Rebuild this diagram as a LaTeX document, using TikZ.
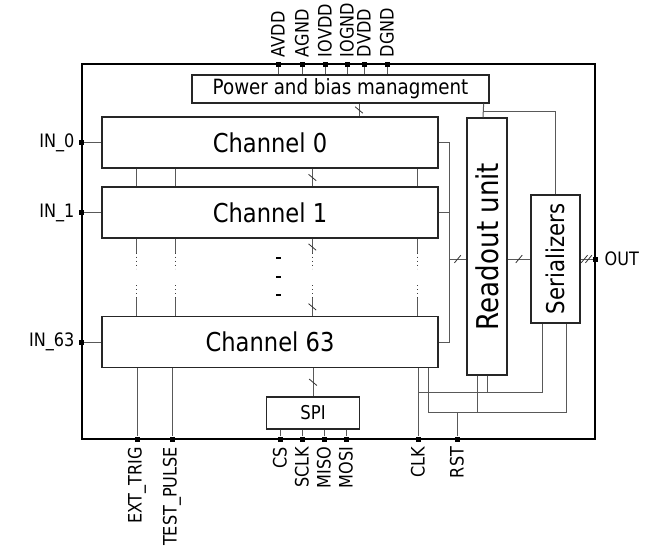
\documentclass[tikz,border=0pt]{standalone}
\usepackage{fontspec}
\setmainfont{DejaVu Sans}[FakeStretch=0.87]
\usetikzlibrary{positioning}

\begin{document}
\begin{tikzpicture}[x=1pt, y=-1pt,
    box/.style={draw=black!85, line width=1.3pt, fill=white, inner sep=0pt},
    chbox/.style={minimum width=336pt, minimum height=51pt, font=\fontsize{26}{30}\selectfont},
    wire/.style={draw=black!65, line width=1pt},
    dotwire/.style={wire, draw=black!75, dash pattern=on 1.2pt off 2.8pt},
    padsq/.style={fill=black, minimum size=5pt, inner sep=0pt},
    pinlbl/.style={font=\fontsize{18.5}{22}\selectfont, inner sep=0pt},
    slashmark/.style={sloped, rotate=50, draw=black!80, line width=0.8pt, minimum width=10pt, minimum height=0pt, inner sep=0pt}]
    \useasboundingbox (0,0) rectangle (646,546);

    % Chip outline
    \node[draw, line width=1.4pt, minimum width=513pt, minimum height=375pt, inner sep=0pt] (chip) at (338.5,251.5) {};

    % Blocks
    \node[box, minimum width=297pt, minimum height=28pt, font=\fontsize{21}{24}\selectfont] (pwr) at (340.5,89) {Power and bias managment};
    \node[box, chbox] (ch0) at (270,142.5) {Channel 0};
    \node[box, chbox] (ch1) at (270,212.5) {Channel 1};
    \node[box, chbox] (ch63) at (270,342) {Channel 63};
    \node[box, minimum width=40pt, minimum height=257pt, font=\fontsize{30}{34}\selectfont] (ro) at (487,246.5) {\rotatebox{90}{Readout unit}};
    \node[box, minimum width=49pt, minimum height=128pt, font=\fontsize{24.5}{28}\selectfont] (sr) at (555.5,259) {\rotatebox{90}{Serializers}};
    \node[box, minimum width=93pt, minimum height=32pt, font=\fontsize{19}{22}\selectfont] (spi) at (313,413) {SPI};

    % Supply pins
    \foreach \pinx/\pinid/\pintxt in {278/avdd/AVDD, 302/agnd/AGND, 325/iovdd/IOVDD, 347/iognd/IOGND, 364/dvdd/DVDD, 387/dgnd/DGND}{
        \node[padsq] (\pinid) at (\pinx,64) {};
        \draw[wire] (\pinid) -- (\pinid |- pwr.north);
        \node[pinlbl, rotate=90, anchor=west] (\pinid lbl) at ([yshift=4pt]\pinid.north) {\pintxt};
    }

    % Bottom pins
    \foreach \pinx/\pinid/\pintxt in {137/ext/EXT\_TRIG, 172/tp/TEST\_PULSE, 280/cs/CS, 302/sclk/SCLK, 324/miso/MISO, 346/mosi/MOSI, 418/clk/CLK, 457/rst/RST}{
        \node[padsq] (\pinid) at (\pinx,439) {};
        \node[pinlbl, rotate=90, anchor=east] (\pinid lbl) at ([yshift=-5pt]\pinid.south) {\pintxt};
    }

    % Inputs
    \foreach \chn/\chtxt in {ch0/IN\_0, ch1/IN\_1, ch63/IN\_63}{
        \node[padsq] (in\chn) at (chip.west |- \chn.west) {};
        \node[pinlbl, left=4pt of in\chn] (lbl\chn) {\chtxt};
        \draw[wire] (in\chn) -- (\chn.west);
    }

    % Output
    \node[padsq] (out) at (chip.east |- sr.east) {};
    \node[pinlbl, right=6pt of out] (outlbl) {OUT};

    % Power distribution
    \draw[wire] ([xshift=18.5pt]pwr.south) -- node[slashmark]{} ([xshift=89pt]ch0.north);
    \draw[wire] ([xshift=-6pt]pwr.south east) -- ([xshift=-4pt]ro.north);
    \draw[wire] ([xshift=-6pt,yshift=-8pt]pwr.south east) -| (sr.north);

    % Links between channels
    \foreach \dx in {35,74,316}
        \draw[wire] ([xshift=\dx pt]ch0.south west) -- ([xshift=\dx pt]ch1.north west);
    \draw[wire] ([xshift=211pt]ch0.south west) -- node[slashmark]{} ([xshift=211pt]ch1.north west);
    \foreach \dx in {35,74,211,316}{
        \draw[wire] ([xshift=\dx pt]ch1.south west) -- ++(0,14) coordinate (dtop);
        \draw[dotwire] (dtop) -- ++(0,16);
        \draw[wire] ([xshift=\dx pt]ch63.north west) -- ++(0,-18) coordinate (dbot);
        \draw[dotwire] (dbot) -- ++(0,-14);
    }
    \path ([xshift=211pt]ch1.south west) -- node[slashmark, pos=0.6]{} ++(0,14);
    \path ([xshift=211pt]ch63.north west) -- node[slashmark]{} ++(0,-18);
    \foreach \yy in {259,278,296}
        \fill (275.5,\yy) rectangle ++(5,-2.5);

    % Data path
    \draw[wire] (ch0.east) -- ++(11,0) |- (ch63.east);
    \draw[wire] (ch1.east) -- ++(11,0);
    \coordinate (busj) at (449,259);
    \draw[wire] (busj) -- node[slashmark]{} (busj -| ro.west);
    \draw[wire] (ro.east |- sr.west) -- node[slashmark]{} (sr.west);
    \draw[wire] (sr.east) -- node[slashmark, pos=0.3]{} node[slashmark, pos=0.65]{} (out);

    % Trigger, test pulse and SPI
    \draw[wire] (ext |- ch63.south) -- (ext);
    \draw[wire] (tp |- ch63.south) -- (tp);
    \draw[wire] (spi.north |- ch63.south) -- node[slashmark]{} (spi.north);
    \foreach \pinid in {cs,sclk,miso,mosi}
        \draw[wire] (\pinid) -- (\pinid |- spi.south);

    % Clock and reset
    \coordinate (clkj) at (418,392);
    \coordinate (rstj) at (428,412);
    \coordinate (rotap) at ([xshift=-10pt]ro.south);
    \draw[wire] (clk |- ch63.south) -- (clk);
    \draw[wire] (clkj) -| ([xshift=-13.5pt]sr.south);
    \draw[wire] (ro.south) -- (ro.south |- clkj);
    \draw[wire] (rstj |- ch63.south) -- (rstj) -| ([xshift=10.5pt]sr.south);
    \draw[wire] (rotap) -- (rotap |- rstj);
    \draw[wire] (rst) -- (rst |- rstj);
\end{tikzpicture}
\end{document}
